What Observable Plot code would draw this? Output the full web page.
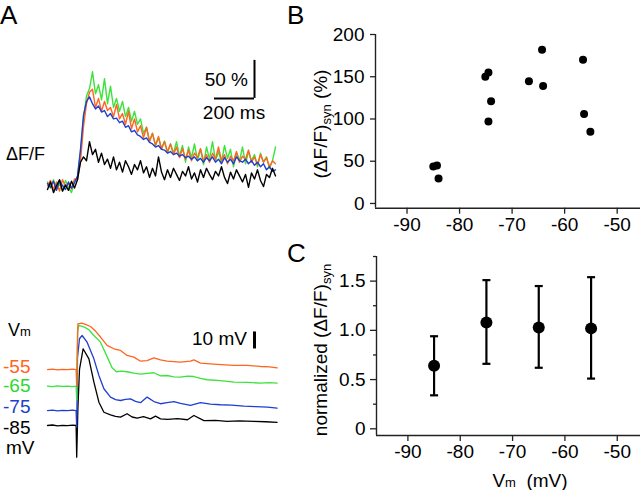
<!DOCTYPE html>
<html><head><meta charset="utf-8">
<script src="https://cdn.jsdelivr.net/npm/d3@7"></script>
<script src="https://cdn.jsdelivr.net/npm/@observablehq/plot@0.6"></script>
<style>
body{margin:0;background:#fff}
#fig{position:relative;width:640px;height:490px;overflow:hidden;background:#fff;font-family:"Liberation Sans",Arial,sans-serif}
</style></head><body><div id="fig"></div>
<script>
// ---------- DATA ----------
// Panel A (top): dF/F traces (%), sampled every 15 ms
const timeMs = [0,15,30,45,60,75,90,105,120,135,150,165,180,195,210,225,240,255,270,285,300,315,330,345,360,375,390,405,420,435,450,465,480,495,510,525,540,555,570,585,600,615,630,645,660,675,690,705,720,735,750,765,780,795,810,825,840,855,870,885,900,915,930,945,960,975,990,1005,1020,1035,1050,1065,1080,1095,1110,1125,1140];
const dfGreen = [2,-6,5,-8,0,-10,4,-5,-12,3, 8,40,85,115,125,147,118,130,110,138, 105,128,100,112,95,108,88,100,82,95, 78,85,66,74,56,66,50,60,46,56, 40,52,40,55,36,50,28,48,34,52, 30,45,25,48,32,55,30,42,28,50, 33,45,22,40,30,48,26,42,30,38, 22,40,28,35,20,30,48];
const dfOrange = [-3,4,-8,2,-10,5,-4,0,-7,6, 5,30,75,105,120,124,100,112,95,108, 96,100,88,104,85,92,78,95,72,85, 68,76,60,74,55,66,50,62,45,55, 42,52,38,48,34,46,32,44,30,40, 34,46,30,38,28,40,32,48,30,38, 26,36,30,42,28,36,32,44,28,35, 25,38,28,34,22,30,26];
const dfBlue = [0,-5,3,-9,4,-3,-8,2,-6,1, 10,45,90,108,114,105,98,102,94,96, 88,92,85,86,80,82,74,76,68,70, 64,62,58,60,54,52,48,50,45,44, 40,42,38,40,36,38,34,36,32,35, 30,33,28,34,30,35,28,32,26,34, 28,32,26,35,30,28,32,26,30,24, 28,22,26,18,22,16,18];
const dfBlack = [-8,2,-12,-3,5,-10,-2,-9,3,-6, 5,28,35,30,55,38,45,28,40,25, 32,20,35,18,28,15,30,22,12,25, 18,30,14,22,8,20,10,35,15,5, 18,8,20,12,4,16,10,22,6,14, 2,18,8,20,12,5,16,10,22,8, 0,15,6,18,10,2,12,-5,14,6, 18,4,-4,12,8,20,10];
const dfScaleBar = {t1: 835, t2: 1035, v1: 112, v2: 162}; // 200 ms, 50 %

// Panel A (bottom): membrane potential traces [ms, mV]
const vmOrange = [[0,-52.1],[25,-51.9],[50,-52.3],[75,-52.0],[100,-52.2],[125,-51.9],[143,-52.1],[146,-61.9],[152,-25.2],[170,-24.8],[190,-25.6],[215,-26.8],[240,-29.5],[265,-33.0],[298,-37.9],[332,-39.9],[365,-40.9],[398,-43.8],[432,-44.8],[465,-47.2],[498,-46.8],[532,-45.2],[565,-46.4],[598,-47.2],[665,-47.7],[715,-47.2],[732,-46.4],[765,-48.3],[848,-49.1],[932,-49.7],[1000,-49.6],[1065,-50.3],[1110,-50.5],[1148,-51.1]];
const vmGreen = [[0,-61.9],[25,-62.2],[50,-61.7],[75,-62.0],[100,-61.8],[125,-62.1],[143,-61.9],[146,-70],[150,-30],[157,-26.2],[185,-27.2],[207,-28.7],[232,-32.1],[265,-36.0],[298,-44.5],[323,-51.0],[345,-53.4],[370,-53.0],[398,-53.4],[432,-54.2],[465,-54.8],[498,-54.3],[532,-54.0],[565,-55.8],[598,-55.6],[632,-56.4],[665,-56.6],[700,-56.0],[732,-56.2],[765,-57.3],[798,-58.1],[865,-58.6],[932,-59.5],[1000,-59.6],[1065,-60.1],[1110,-59.8],[1148,-60.1]];
const vmBlue = [[0,-76.2],[25,-76.0],[50,-76.4],[75,-76.1],[100,-76.3],[125,-76.0],[143,-76.2],[146,-86],[150,-45],[160,-34],[173,-32.1],[198,-36.0],[232,-45.8],[257,-55.6],[282,-63.4],[315,-68.3],[340,-69.8],[365,-70.3],[390,-69.6],[415,-69.3],[440,-70.8],[465,-71.6],[498,-68.3],[532,-70.9],[565,-72.2],[598,-71.6],[632,-70.9],[665,-72.0],[715,-73.2],[765,-71.6],[815,-72.4],[865,-72.8],[920,-73.0],[982,-73.6],[1040,-73.9],[1100,-74.2],[1148,-74.8]];
const vmBlack = [[0,-85.0],[25,-84.7],[50,-85.2],[75,-84.9],[100,-85.1],[125,-84.8],[143,-85.0],[146,-103.6],[152,-75],[160,-52],[178,-39.9],[207,-45.8],[232,-59.5],[257,-71.3],[282,-77.2],[315,-78.7],[340,-79.6],[365,-80.1],[398,-78.1],[423,-80.0],[448,-80.6],[480,-79.8],[515,-81.1],[540,-79.5],[565,-81.1],[600,-81.4],[650,-81.0],[700,-81.6],[732,-79.1],[782,-82.1],[840,-82.0],[898,-82.6],[960,-82.3],[1032,-82.6],[1090,-82.8],[1148,-83.1]];
const vmScaleBar = {t: 1035, v1: -40, v2: -30}; // 10 mV
const vmLabels = ["-55", "-65", "-75", "-85"];

// Panel B: individual (dF/F)syn vs Vm
const bVm = [-85.0,-84.3,-84.0,-75.1,-74.5,-74.0,-74.5,-66.8,-64.3,-64.1,-56.5,-56.3,-55.1];
const bDF = [43.9,45,29.6,150,155,121,97,144.7,182,139,170,106,85];
const bYTicks = [0,50,100,150,200];

// Panel C: normalized mean +/- SD
const cVm = [-85,-75,-65,-55];
const cMean = [0.64,1.08,1.03,1.02];
const cLo = [0.34,0.66,0.62,0.51];
const cHi = [0.94,1.51,1.45,1.54];
const cYTicks = [0,0.5,1,1.5];
const cYMinor = [0.25,0.75,1.25,1.75];
const vmTicks = [-90,-80,-70,-60,-50];

// ---------- STYLE / LAYOUT ----------
const FONT = '"Liberation Sans", Arial, sans-serif';
const C_ORANGE = "#ff6420", C_GREEN = "#3be33b", C_BLUE = "#1f3fcf", C_BLACK = "#000";
const AX = "#222";
const baseStyle = {background: "none", overflow: "visible", fontFamily: FONT, fontSize: "19px", color: "#000"};
const vmDomain = [-96, -45.56];
const plainFmt = d => String(d);
const fig = document.getElementById("fig");
function place(el, left, top) {
  el.style.position = "absolute"; el.style.left = left + "px"; el.style.top = top + "px";
  fig.appendChild(el);
}

// Panel A top
const dfRows = (arr) => timeMs.map((t, i) => ({t, v: arr[i]}));
const pA1 = Plot.plot({
  width: 260, height: 160, marginLeft: 17, marginRight: 13, marginTop: 10, marginBottom: 10,
  x: {domain: [0, 1150], axis: null}, y: {domain: [-9.2, 175], axis: null},
  style: baseStyle,
  marks: [
    Plot.line(dfRows(dfGreen), {x: "t", y: "v", stroke: C_GREEN, strokeWidth: 1.4}),
    Plot.line(dfRows(dfOrange), {x: "t", y: "v", stroke: C_ORANGE, strokeWidth: 1.4}),
    Plot.line(dfRows(dfBlue), {x: "t", y: "v", stroke: C_BLUE, strokeWidth: 1.4}),
    Plot.line(dfRows(dfBlack), {x: "t", y: "v", stroke: C_BLACK, strokeWidth: 1.4}),
    Plot.ruleX([dfScaleBar.t2], {y1: dfScaleBar.v1, y2: dfScaleBar.v2, stroke: "#000", strokeWidth: 2}),
    Plot.ruleY([dfScaleBar.v1], {x1: dfScaleBar.t1, x2: dfScaleBar.t2, stroke: "#000", strokeWidth: 2})
  ]
});
place(pA1, 30, 40);

// Panel A bottom
const pairRows = (arr) => arr.map(([t, v]) => ({t, v}));
const pA2 = Plot.plot({
  width: 260, height: 170, marginLeft: 17, marginRight: 13, marginTop: 10, marginBottom: 5,
  x: {domain: [0, 1150], axis: null}, y: {domain: [-108.5, -17.4], axis: null},
  style: baseStyle,
  marks: [
    Plot.line(pairRows(vmBlack), {x: "t", y: "v", stroke: C_BLACK, strokeWidth: 1.3}),
    Plot.line(pairRows(vmBlue), {x: "t", y: "v", stroke: C_BLUE, strokeWidth: 1.3}),
    Plot.line(pairRows(vmGreen), {x: "t", y: "v", stroke: C_GREEN, strokeWidth: 1.3}),
    Plot.line(pairRows(vmOrange), {x: "t", y: "v", stroke: C_ORANGE, strokeWidth: 1.3}),
    Plot.ruleX([vmScaleBar.t], {y1: vmScaleBar.v1, y2: vmScaleBar.v2, stroke: "#000", strokeWidth: 3})
  ]
});
place(pA2, 30, 300);

// Panel B
const bRows = bVm.map((v, i) => ({vm: v, df: bDF[i]}));
const bYDomain = [-5.6, 200];
const pB = Plot.plot({
  width: 340, height: 220, marginLeft: 75, marginRight: 0, marginTop: 14, marginBottom: 32.3,
  x: {domain: vmDomain}, y: {domain: bYDomain},
  style: baseStyle,
  marks: [
    Plot.ruleX([vmDomain[0]], {stroke: AX, strokeWidth: 1.4}),
    Plot.ruleY([bYDomain[0]], {stroke: AX, strokeWidth: 1.4}),
    Plot.axisX({ticks: vmTicks, tickSize: 6, tickPadding: 3, fontSize: 19, label: null, stroke: AX, strokeWidth: 1.3, tickFormat: plainFmt}),
    Plot.axisY({ticks: bYTicks, tickSize: 5, tickPadding: 6, fontSize: 19, label: null, stroke: AX, strokeWidth: 1.3, tickFormat: plainFmt}),
    Plot.dot(bRows, {x: "vm", y: "df", r: 4, fill: "#000", stroke: null})
  ]
});
place(pB, 300, 20);

// Panel C
const cRows = cVm.map((v, i) => ({vm: v, m: cMean[i], lo: cLo[i], hi: cHi[i]}));
const cYDomain = [-0.068, 1.75];
const capSymbol = {draw(ctx, size) { const r = Math.sqrt(size / Math.PI); ctx.moveTo(-r, 0); ctx.lineTo(r, 0); }};
const pC = Plot.plot({
  width: 340, height: 245, marginLeft: 76, marginRight: 0, marginTop: 11, marginBottom: 55,
  x: {domain: vmDomain}, y: {domain: cYDomain},
  style: baseStyle,
  marks: [
    Plot.ruleX([vmDomain[0]], {stroke: AX, strokeWidth: 1.4}),
    Plot.ruleY([cYDomain[0]], {stroke: AX, strokeWidth: 1.4}),
    Plot.axisX({ticks: vmTicks, tickSize: 6, tickPadding: 3, fontSize: 19, label: null, stroke: AX, strokeWidth: 1.3, tickFormat: plainFmt}),
    Plot.axisY({ticks: cYTicks, tickSize: 6, tickPadding: 5, fontSize: 19, label: null, stroke: AX, strokeWidth: 1.3,
      tickFormat: d => d === 0 ? "0" : d.toFixed(1)}),
    Plot.axisY({ticks: cYMinor, tickSize: 3, fontSize: 19, label: null, stroke: AX, strokeWidth: 1.3, tickFormat: () => ""}),
    Plot.ruleX(cRows, {x: "vm", y1: "lo", y2: "hi", stroke: "#000", strokeWidth: 2.2}),
    Plot.dot(cRows, {x: "vm", y: "lo", r: 4, symbol: capSymbol, stroke: "#000", strokeWidth: 2.2, fill: "none"}),
    Plot.dot(cRows, {x: "vm", y: "hi", r: 4, symbol: capSymbol, stroke: "#000", strokeWidth: 2.2, fill: "none"}),
    Plot.dot(cRows, {x: "vm", y: "m", r: 6, fill: "#000", stroke: null})
  ]
});
place(pC, 300, 245);

// ---------- TEXT OVERLAY ----------
const ov = d3.create("svg").attr("width", 640).attr("height", 490)
  .style("font-family", FONT).style("pointer-events", "none");
function txt(x, y, parts, {anchor = "start", rotate = 0, fill = "#000"} = {}) {
  const t = ov.append("text").attr("text-anchor", anchor).attr("fill", fill)
    .attr("transform", `translate(${x},${y}) rotate(${rotate})`);
  for (const p of parts) {
    const s = t.append("tspan").text(p.t).attr("font-size", p.size);
    if (p.dy) s.attr("dy", p.dy);
    if (p.fill) s.attr("fill", p.fill);
  }
  return t;
}
txt(0, 23.5, [{t: "A", size: 26}]);
txt(287, 23.5, [{t: "B", size: 26}]);
txt(287, 262, [{t: "C", size: 26}]);
txt(6, 160, [{t: "ΔF/F", size: 18}]);
txt(248, 86, [{t: "50 %", size: 19}], {anchor: "end"});
txt(234, 118.5, [{t: "200 ms", size: 19}], {anchor: "middle"});
txt(192, 345, [{t: "10 mV", size: 19}]);
txt(8, 336, [{t: "V", size: 18}, {t: "m", size: 13}]);
const vmLabelColors = [C_ORANGE, "#2fd82f", "#2040c8", "#000"];
const vmLabelY = [373, 392, 413, 434];
vmLabels.forEach((s, i) => txt(3, vmLabelY[i], [{t: s, size: 19}], {fill: vmLabelColors[i]}));
txt(6, 454, [{t: "mV", size: 19}]);
txt(327, 124, [{t: "(ΔF/F)", size: 19}, {t: "syn", size: 13, dy: 4}, {t: " (%)", size: 19, dy: -4}], {anchor: "middle", rotate: -90});
txt(327, 350, [{t: "normalized (ΔF/F)", size: 19}, {t: "syn", size: 13, dy: 4}], {anchor: "middle", rotate: -90});
txt(530, 487, [{t: "V", size: 19}, {t: "m", size: 13}, {t: "  (mV)", size: 19}], {anchor: "middle"}).style("white-space", "pre");
place(ov.node(), 0, 0);
</script></body></html>
